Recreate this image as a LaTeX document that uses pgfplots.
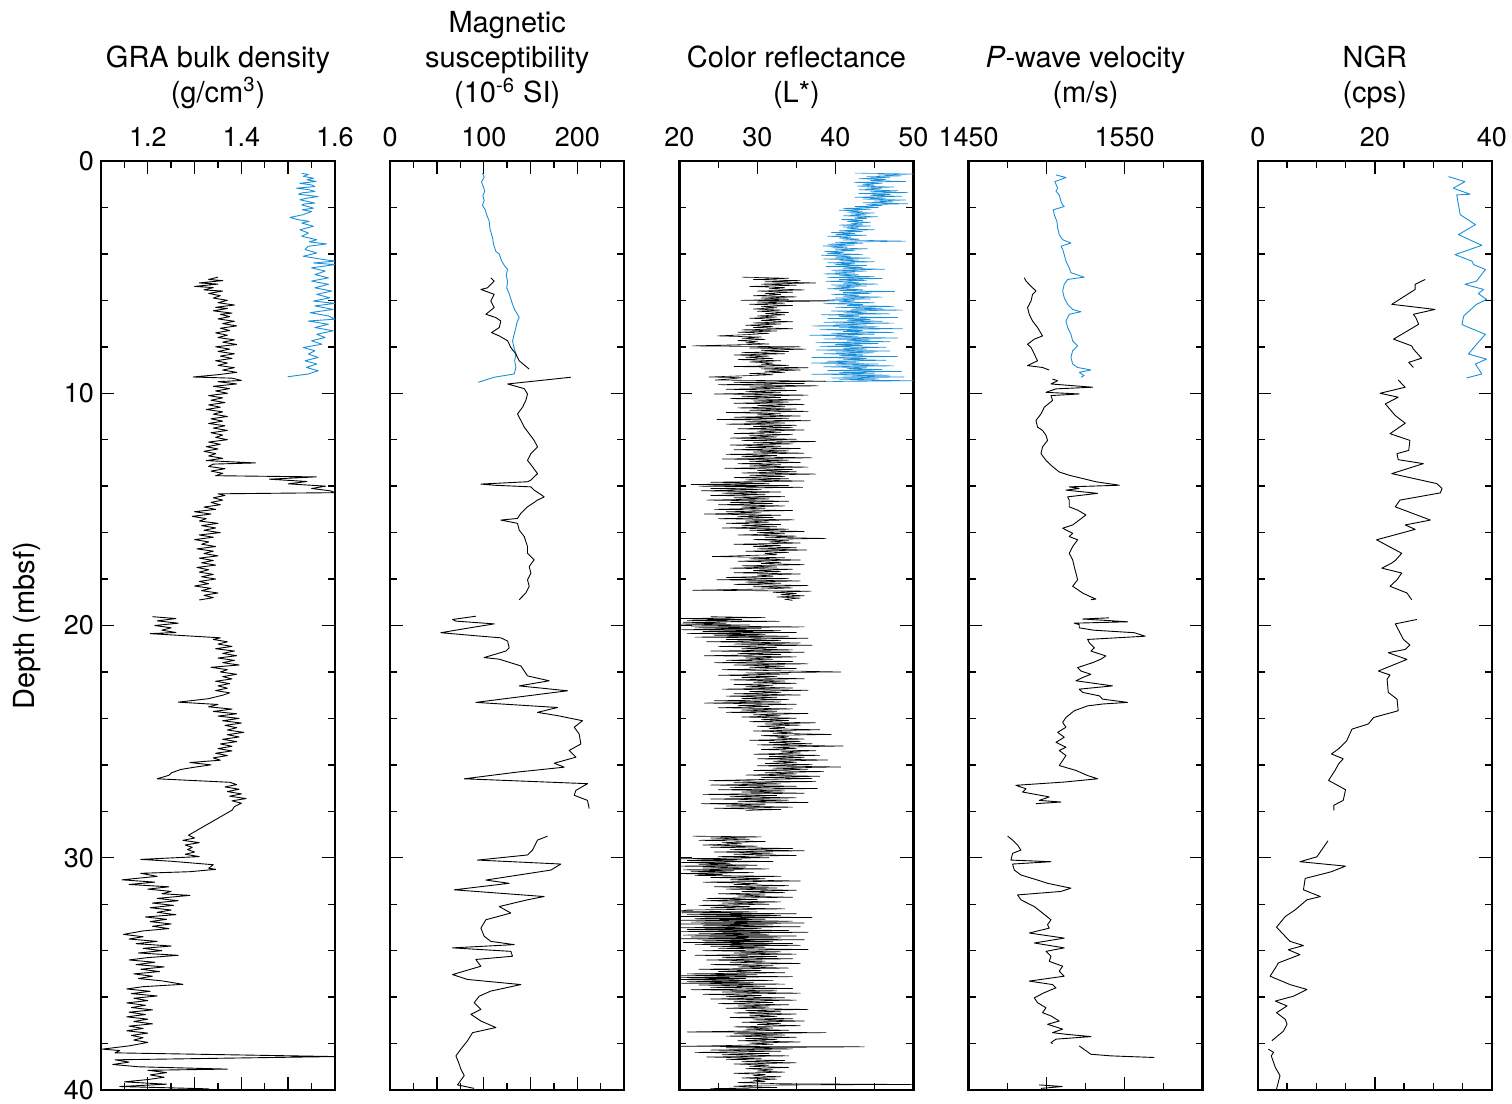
\documentclass[border=0pt]{standalone}
\usepackage{fontspec}
\setmainfont{TeX Gyre Heros}
\usepackage{pgfplots}
\pgfplotsset{compat=1.18}
\definecolor{holeA}{HTML}{1B8FD8}

\pgfplotsset{
  core/.style={
    scale only axis, width=117pt, height=464.5pt,
    anchor=south west,
    y dir=reverse, ymin=0, ymax=40,
    ytick={0,10,20,30,40}, minor y tick num=4, yticklabels={},
    xticklabel pos=upper,
    tick align=inside,
    major tick length=6.5pt, minor tick length=3.5pt,
    every tick/.style={black, line width=0.7pt},
    axis line style={line width=1.2pt},
    tick label style={font=\fontsize{13.5}{16}\selectfont},
    xticklabel style={yshift=3.5pt},
    title style={align=center, font=\fontsize{14.5}{17.5}\selectfont,
      at={(0.5,1)}, anchor=south, inner sep=0pt, yshift=20pt},
  },
  blk/.style={black, line width=0.45pt, line join=round},
  blu/.style={holeA, line width=0.45pt, line join=round},
}

\begin{document}
\begin{tikzpicture}
\path[use as bounding box] (0,0) rectangle (756pt,552pt);

% ---------------- GRA bulk density
\begin{axis}[core, at={(50.5pt,7pt)},
  xmin=1.1, xmax=1.6,
  xtick={1.1,1.2,1.3,1.4,1.5,1.6}, xticklabels={,1.2,,1.4,,1.6}, minor x tick num=1,
  yticklabels={0,10,20,30,40},
  ylabel={Depth (mbsf)},
  ylabel style={at={(axis description cs:-0.316,0.5)}, anchor=center, font=\fontsize{14.5}{17.5}\selectfont},
  title={GRA bulk density\\(g/cm\textsuperscript{3})}]
\addplot[blu] coordinates {(1.529,0.53) (1.543,0.58) (1.532,0.66) (1.554,0.74) (1.540,0.81) (1.560,0.88) (1.525,0.96) (1.550,1.03) (1.557,1.1) (1.518,1.17) (1.545,1.24) (1.557,1.31) (1.530,1.37) (1.522,1.43) (1.564,1.53) (1.540,1.6) (1.525,1.67) (1.557,1.81) (1.535,1.85) (1.529,1.89) (1.554,2.03) (1.530,2.1) (1.550,2.17) (1.532,2.31) (1.504,2.43) (1.522,2.53) (1.545,2.6) (1.529,2.67) (1.554,2.81) (1.525,2.96) (1.543,3.1) (1.529,3.24) (1.561,3.39) (1.545,3.48) (1.582,3.57) (1.543,3.67) (1.536,3.81) (1.561,3.96) (1.532,4.1) (1.575,4.24) (1.600,4.31) (1.554,4.39) (1.600,4.46) (1.550,4.6) (1.579,4.74) (1.557,4.89) (1.586,5.03) (1.550,5.17) (1.586,5.31) (1.557,5.46) (1.593,5.6) (1.561,5.74) (1.589,5.89) (1.554,6.03) (1.600,6.13) (1.557,6.24) (1.596,6.39) (1.547,6.53) (1.586,6.67) (1.600,6.81) (1.543,6.89) (1.586,7.03) (1.557,7.17) (1.596,7.31) (1.561,7.46) (1.579,7.6) (1.550,7.74) (1.572,7.89) (1.532,8.03) (1.557,8.17) (1.543,8.31) (1.564,8.46) (1.536,8.6) (1.561,8.74) (1.539,8.89) (1.564,9.03) (1.543,9.17) (1.499,9.29)};
\addplot[blk] coordinates {(1.35,5.0) (1.33,5.1) (1.36,5.15) (1.31,5.25) (1.35,5.3) (1.30,5.4) (1.34,5.45) (1.32,5.55) (1.36,5.6) (1.33,5.7) (1.355,5.8) (1.34,5.9) (1.37,6.0) (1.35,6.1) (1.385,6.2) (1.345,6.3) (1.37,6.35) (1.34,6.45) (1.38,6.55) (1.355,6.6) (1.375,6.7) (1.35,6.8) (1.385,6.9) (1.36,7.0) (1.39,7.1) (1.355,7.2) (1.375,7.3) (1.345,7.4) (1.37,7.5) (1.35,7.6) (1.385,7.7) (1.36,7.8) (1.39,7.9) (1.345,8.0) (1.375,8.1) (1.35,8.2) (1.385,8.3) (1.355,8.4) (1.38,8.5) (1.345,8.6) (1.37,8.7) (1.35,8.8) (1.385,8.9) (1.36,9.0) (1.39,9.1) (1.35,9.2) (1.297,9.3) (1.38,9.35) (1.40,9.45) (1.35,9.5) (1.39,9.6) (1.34,9.7) (1.375,9.8) (1.345,9.9) (1.37,10.0) (1.33,10.1) (1.36,10.2) (1.335,10.3) (1.365,10.4) (1.33,10.5) (1.355,10.6) (1.325,10.7) (1.36,10.8) (1.34,10.9) (1.37,11.0) (1.335,11.1) (1.36,11.2) (1.33,11.3) (1.365,11.4) (1.34,11.5) (1.37,11.6) (1.335,11.7) (1.36,11.8) (1.345,11.9) (1.37,12.0) (1.33,12.1) (1.355,12.2) (1.325,12.3) (1.35,12.4) (1.32,12.5) (1.345,12.6) (1.33,12.7) (1.36,12.8) (1.325,12.9) (1.43,13.0) (1.34,13.05) (1.33,13.15) (1.365,13.25) (1.335,13.35) (1.36,13.45) (1.345,13.55) (1.56,13.6) (1.46,13.7) (1.54,13.8) (1.50,13.9) (1.58,14.0) (1.55,14.1) (1.59,14.2) (1.6,14.28) (1.35,14.33) (1.365,14.4) (1.34,14.5) (1.36,14.6) (1.335,14.7) (1.355,14.8) (1.32,14.9) (1.345,15.0) (1.30,15.1) (1.335,15.2) (1.295,15.3) (1.325,15.4) (1.31,15.5) (1.35,15.6) (1.315,15.7) (1.345,15.8) (1.32,15.9) (1.355,16.0) (1.31,16.1) (1.34,16.2) (1.30,16.3) (1.33,16.4) (1.315,16.5) (1.345,16.6) (1.305,16.7) (1.34,16.8) (1.32,16.9) (1.35,17.0) (1.31,17.1) (1.34,17.2) (1.315,17.3) (1.345,17.4) (1.305,17.5) (1.33,17.6) (1.31,17.7) (1.34,17.8) (1.315,17.9) (1.345,18.0) (1.31,18.1) (1.33,18.2) (1.30,18.3) (1.335,18.4) (1.315,18.5) (1.35,18.6) (1.32,18.7) (1.34,18.8) (1.31,18.9)};
\addplot[blk] coordinates {(1.21,19.62) (1.26,19.7) (1.22,19.8) (1.265,19.9) (1.215,20.0) (1.25,20.1) (1.23,20.2) (1.26,20.3) (1.205,20.35) (1.355,20.53) (1.34,20.6) (1.37,20.7) (1.35,20.8) (1.38,20.9) (1.345,21.0) (1.385,21.1) (1.36,21.2) (1.39,21.3) (1.35,21.4) (1.385,21.5) (1.36,21.6) (1.395,21.7) (1.335,21.8) (1.37,21.9) (1.355,22.0) (1.39,22.1) (1.36,22.2) (1.38,22.3) (1.345,22.4) (1.375,22.5) (1.35,22.6) (1.37,22.7) (1.345,22.8) (1.375,22.9) (1.36,23.0) (1.33,23.15) (1.265,23.3) (1.35,23.4) (1.33,23.5) (1.38,23.6) (1.34,23.7) (1.39,23.8) (1.35,23.9) (1.395,24.0) (1.36,24.1) (1.40,24.2) (1.365,24.3) (1.39,24.4) (1.37,24.5) (1.405,24.6) (1.37,24.7) (1.395,24.8) (1.36,24.9) (1.39,25.0) (1.355,25.1) (1.38,25.2) (1.35,25.3) (1.38,25.4) (1.345,25.5) (1.37,25.6) (1.34,25.7) (1.355,25.8) (1.29,25.9) (1.335,26.0) (1.30,26.1) (1.27,26.2) (1.25,26.35) (1.245,26.45) (1.22,26.6) (1.375,26.75) (1.39,26.85) (1.365,26.95) (1.395,27.05) (1.37,27.15) (1.40,27.25) (1.375,27.35) (1.41,27.45) (1.38,27.55) (1.40,27.65) (1.385,27.8) (1.38,27.95) (1.287,29.03) (1.30,29.15) (1.275,29.25) (1.31,29.35) (1.28,29.45) (1.295,29.55) (1.285,29.65) (1.30,29.75) (1.28,29.85) (1.31,29.95) (1.185,30.07) (1.25,30.15) (1.34,30.3) (1.33,30.45) (1.345,30.5) (1.29,30.6) (1.185,30.67) (1.22,30.8) (1.145,30.95) (1.215,31.05) (1.16,31.15) (1.245,31.25) (1.20,31.35) (1.25,31.45) (1.23,31.55) (1.29,31.62) (1.22,31.75) (1.265,31.85) (1.21,31.95) (1.255,32.05) (1.205,32.15) (1.25,32.25) (1.22,32.35) (1.26,32.45) (1.195,32.55) (1.24,32.65) (1.205,32.75) (1.25,32.85) (1.21,32.95) (1.245,33.05) (1.19,33.15) (1.148,33.3) (1.19,33.4) (1.16,33.5) (1.22,33.6) (1.175,33.7) (1.25,33.8) (1.19,33.9) (1.23,34.0) (1.18,34.1) (1.265,34.2) (1.20,34.3) (1.16,34.4) (1.215,34.5) (1.175,34.6) (1.235,34.7) (1.185,34.8) (1.225,34.9) (1.17,35.0) (1.21,35.1) (1.18,35.2) (1.23,35.3) (1.275,35.45) (1.19,35.55) (1.155,35.65) (1.205,35.75) (1.165,35.85) (1.22,35.95) (1.17,36.05) (1.20,36.15) (1.155,36.25) (1.195,36.35) (1.165,36.45) (1.21,36.55) (1.16,36.65) (1.195,36.75) (1.155,36.85) (1.20,36.95) (1.17,37.05) (1.21,37.15) (1.16,37.25) (1.19,37.35) (1.155,37.45) (1.20,37.55) (1.165,37.65) (1.19,37.75) (1.17,37.85) (1.20,37.95) (1.16,38.1) (1.103,38.24) (1.14,38.3) (1.13,38.4) (1.6,38.56) (1.13,38.7) (1.16,38.8) (1.125,38.9) (1.18,39.0) (1.37,39.1) (1.2,39.15) (1.24,39.25) (1.205,39.35) (1.235,39.45) (1.2,39.55) (1.15,39.65) (1.24,39.75) (1.14,39.85) (1.33,39.95) (1.25,40)};
\end{axis}

% ---------------- Magnetic susceptibility
\begin{axis}[core, at={(195.1pt,7pt)},
  xmin=0, xmax=250,
  xtick={0,50,100,150,200,250}, xticklabels={0,,100,,200,}, minor x tick num=1,
  title={Magnetic\\susceptibility\\(10\textsuperscript{-6} SI)}]
\addplot[blu] coordinates {(98.6,0.53) (100.4,0.7) (97.5,0.9) (99.5,1.1) (101,1.3) (99,1.5) (100.4,1.7) (98.6,1.9) (101.5,2.1) (103,2.3) (105.8,2.6) (106.5,2.9) (109.3,3.3) (110.5,3.6) (113,3.9) (116.5,4.0) (119,4.3) (122,4.5) (125.4,4.67) (124,4.9) (125.4,5.2) (124.5,5.46) (127,5.7) (129,5.95) (130.7,6.17) (133,6.4) (136,6.6) (137.8,6.74) (135.5,6.95) (134.3,7.17) (132.5,7.45) (130.7,7.74) (132,8.0) (134.3,8.31) (133,8.6) (134.3,8.89) (132.5,9.17) (111.1,9.31) (94,9.53)};
\addplot[blk] coordinates {(107.5,5.03) (111.1,5.17) (104,5.46) (96.9,5.53) (111.1,5.74) (107.5,6.03) (111.1,6.31) (102.2,6.6) (112.9,6.74) (118.2,6.89) (116.5,7.17) (108.3,7.39) (116.5,7.53) (125.4,7.74) (128.9,8.03) (134.3,8.31) (137.8,8.6) (148.5,8.96)};
\addplot[blk] coordinates {(193,9.31) (125.4,9.6) (143.2,9.8) (146.7,10.03) (144.9,10.31) (141.4,10.6) (136,10.89) (139.6,11.17) (143.2,11.46) (148.5,11.74) (153.8,12.03) (157.4,12.31) (150.3,12.6) (146.7,12.89) (152.1,13.17) (157.4,13.46) (150.3,13.74) (146.7,13.81) (96.9,13.91) (111.1,13.96) (150.3,14.03) (153.8,14.17) (159.2,14.31) (164.5,14.46) (157.4,14.6) (146.7,14.89) (139.6,15.17) (136,15.39) (118.2,15.46) (136,15.6) (137.8,15.89) (143.2,16.17) (146.7,16.6) (146.7,16.89) (153.8,17.17) (148.5,17.46) (150.3,17.74) (146.7,18.03) (148.5,18.31) (144.9,18.6) (137.8,18.89)};
\addplot[blk] coordinates {(91.5,19.6) (66.6,19.74) (70,19.81) (111.1,19.93) (85,20.1) (54.1,20.31) (96.9,20.46) (118.2,20.53) (125.4,20.67) (127.1,20.96) (123.6,21.1) (100.4,21.38) (116.5,21.45) (139.6,21.74) (146.7,22.17) (169.9,22.38) (137.8,22.6) (189.5,22.81) (91.5,23.31) (178.8,23.53) (157.4,23.74) (178.8,23.88) (205.5,24.1) (196.6,24.38) (201.9,24.67) (203.7,25.1) (191.2,25.38) (198.4,25.67) (175.2,25.93) (185.9,26.1) (136,26.31) (79.1,26.6) (210.8,26.81) (198.4,27.1) (196.6,27.31) (210.8,27.53) (212.6,27.88)};
\addplot[blk] coordinates {(168.1,29.07) (157.4,29.24) (152.1,29.67) (146.7,29.88) (93.3,30.1) (182.3,30.27) (171.7,30.53) (102.2,30.96) (127.1,31.1) (68.4,31.38) (164.5,31.67) (146.7,31.81) (116.5,32.1) (128.9,32.38) (102.2,32.67) (96.9,33.03) (100.4,33.38) (107.5,33.6) (132.5,33.74) (66.6,33.88) (128.9,34.03) (130.7,34.24) (91.5,34.38) (96.9,34.67) (66.6,35.03) (82.6,35.24) (139.6,35.46) (107.5,35.74) (95.1,35.96) (89.7,36.24) (96.9,36.53) (86.2,36.74) (96.9,37.03) (112.9,37.31) (88,37.53) (82.6,37.88) (75.5,38.24) (70.2,38.53) (73.7,38.88) (75.5,39.1) (79.1,39.38) (71.9,39.78) (89.7,39.93)};
\end{axis}

% ---------------- Color reflectance
\begin{axis}[core, at={(339.7pt,7pt)},
  xmin=20, xmax=50,
  xtick={20,30,40,50}, xticklabels={20,30,40,50}, minor x tick num=1,
  title={Color reflectance\\(L*)}]
\addplot[blu, line width=0.3pt] coordinates {(42.5,0.52) (50,0.56) (45.5,0.6) (48.5,0.64) (44,0.68) (47,0.72) (43,0.76) (46.5,0.8) (44.5,0.84) (49,0.88) (42.4,0.92) (46,0.96) (43.5,1.0) (45,1.04) (42.8,1.08) (47.5,1.12) (44,1.16) (46,1.2) (43,1.24) (48,1.28) (44.5,1.32) (49.3,1.36) (43,1.4) (47,1.44) (44.5,1.48) (48.5,1.52) (42.5,1.56) (46.5,1.6) (43.5,1.64) (49,1.68) (45,1.72) (47.5,1.76) (43.5,1.8) (49.3,1.84) (44,1.88) (46,1.92) (42.5,1.96) (45.5,2.0) (41,2.04) (44.5,2.08) (40.5,2.12) (43.5,2.16) (41.5,2.2) (45,2.24) (42,2.28) (44,2.32) (41,2.36) (45.4,2.4) (42.5,2.44) (44,2.48) (40.8,2.52) (43.5,2.56) (41.5,2.6) (44.5,2.64) (42,2.68) (43.5,2.72) (40.5,2.76) (44.5,2.8) (41,2.84) (43,2.88) (41.5,2.92) (45,2.96) (40.5,3.0) (43.5,3.04) (39.5,3.08) (42.5,3.12) (40,3.16) (44,3.2) (39,3.24) (42,3.28) (40.5,3.32) (43,3.36) (41,3.4) (49,3.45) (40,3.5) (43.5,3.54) (39,3.58) (42.5,3.62) (38.4,3.66) (41.5,3.7) (39.5,3.74) (44.1,3.78) (40,3.82) (42.5,3.86) (38.6,3.9) (41,3.94) (39,3.98) (43.5,4.02) (38.2,4.06) (42,4.1) (40,4.14) (44.5,4.18) (38.5,4.22) (43,4.26) (40.5,4.3) (45,4.34) (39,4.38) (42.5,4.42) (40,4.46) (44,4.5) (38.8,4.54) (43.5,4.58) (41,4.62) (46.3,4.66) (39.5,4.7) (44,4.74) (40,4.78) (42.5,4.82) (38.5,4.86) (43,4.9) (40.5,4.94) (45,4.98) (39,5.02) (46,5.06) (40.5,5.1) (44,5.14) (38.8,5.18) (43,5.22) (41,5.26) (45.5,5.3) (39.5,5.34) (44,5.38) (40,5.42) (42.5,5.46) (39,5.5) (43.5,5.54) (40.5,5.58) (47.6,5.62) (41,5.66) (44.5,5.7) (39.5,5.74) (43,5.78) (41,5.82) (46,5.86) (40,5.9) (44.5,5.94) (39,5.98) (42.5,6.02) (40.5,6.06) (45,6.1) (38.5,6.14) (43.5,6.18) (41.5,6.22) (47.5,6.26) (40,6.3) (46,6.34) (42,6.38) (48.6,6.42) (39.5,6.46) (44,6.5) (41,6.54) (47,6.58) (38.2,6.62) (43,6.66) (40.5,6.7) (48,6.74) (39,6.78) (44.5,6.82) (41.5,6.86) (46,6.9) (38.5,6.94) (47.5,6.98) (40,7.02) (44,7.06) (37,7.1) (45.5,7.14) (40.5,7.18) (48.6,7.22) (38,7.26) (43.5,7.3) (41,7.34) (47.5,7.38) (39.5,7.42) (45,7.46) (36.7,7.5) (43,7.54) (40,7.58) (48,7.62) (38.5,7.66) (44.5,7.7) (41.5,7.74) (47,7.78) (37.5,7.82) (45.5,7.86) (40,7.9) (43.5,7.94) (38,7.98) (46.5,8.02) (41,8.06) (44,8.1) (37.5,8.14) (47,8.18) (40,8.22) (45,8.26) (38.5,8.3) (43.5,8.34) (40.5,8.38) (48,8.42) (37,8.46) (44,8.5) (41,8.54) (46.5,8.58) (39,8.62) (43,8.66) (36.9,8.7) (45.5,8.74) (40,8.78) (47.5,8.82) (38.5,8.86) (44,8.9) (41.5,8.94) (46,8.98) (39,9.02) (48.5,9.06) (40.5,9.1) (45,9.14) (37,9.18) (47,9.22) (41,9.26) (48.8,9.3) (39.5,9.34) (45.5,9.38) (40.5,9.42) (50,9.46) (38.5,9.5)};
\addplot[blk, line width=0.3pt] coordinates {(28,5.0) (34,5.05) (29.5,5.1) (35.5,5.15) (31,5.2) (37.5,5.25) (30.5,5.3) (35,5.35) (29,5.4) (33.5,5.45) (31.5,5.5) (36,5.55) (30,5.6) (34.5,5.65) (31,5.7) (33,5.75) (29.5,5.8) (35,5.85) (30.5,5.9) (34,5.95) (27.9,6.0) (39.9,6.02) (30,6.07) (33.5,6.12) (29,6.17) (34.5,6.22) (30.5,6.27) (32.5,6.32) (29.5,6.37) (33,6.42) (30,6.47) (34,6.52) (31,6.57) (33.5,6.62) (30,6.67) (32.5,6.72) (29,6.77) (33,6.82) (30.5,6.87) (34.5,6.92) (29.5,6.97) (33,7.02) (28.5,7.07) (32,7.12) (29.5,7.17) (34.5,7.22) (28,7.27) (32.5,7.32) (27.5,7.37) (31.5,7.42) (29,7.47) (24.9,7.53) (30.5,7.58) (28,7.63) (31,7.68) (27.5,7.73) (30,7.78) (28.5,7.83) (31.5,7.88) (21.7,7.96) (35.5,8.0) (29,8.05) (36.2,8.1) (30.5,8.15) (34,8.2) (28,8.25) (33.5,8.3) (27,8.35) (31.5,8.4) (28.5,8.45) (32,8.5) (27.5,8.55) (33,8.6) (29,8.65) (32,8.7) (30.5,8.75) (34,8.8) (27,8.85) (36.5,8.9) (30.5,8.95) (35.5,9.0) (31,9.05) (33.5,9.1) (29,9.15) (32,9.2) (28,9.25) (23.8,9.3) (28,9.33) (26.5,9.38) (24.6,9.43) (38.8,9.48) (27,9.53) (36,9.58) (25,9.63) (37.8,9.68) (29,9.73) (33.5,9.78) (26,9.83) (35,9.88) (28.5,9.93) (33,9.98) (24.5,10.03) (36.5,10.08) (28,10.13) (33,10.18) (26.5,10.23) (35.5,10.28) (29.5,10.33) (34,10.38) (27,10.43) (36,10.48) (30,10.53) (33.5,10.58) (27.5,10.63) (35,10.68) (29,10.73) (36.5,10.78) (26,10.83) (33,10.88) (30,10.93) (35.5,10.98) (27,11.03) (34,11.08) (24.8,11.13) (36.8,11.18) (28.5,11.23) (33.5,11.28) (26,11.33) (35,11.38) (29.5,11.43) (34.5,11.48) (27.5,11.53) (36,11.58) (30,11.63) (33,11.68) (27,11.73) (34.5,11.78) (29,11.83) (32.5,11.88) (26.5,11.93) (35,11.98) (28,12.03) (37.5,12.08) (29.5,12.13) (34.5,12.18) (26.5,12.23) (33,12.28) (28.5,12.33) (35.5,12.38) (27,12.43) (34,12.48) (29.5,12.53) (36,12.58) (26,12.63) (32.5,12.68) (28,12.73) (37,12.78) (25.5,12.83) (34,12.88) (29,12.93) (35.5,12.98) (27.5,13.03) (33,13.08) (29,13.13) (36.5,13.18) (25.8,13.23) (34.5,13.28) (30,13.33) (35,13.38) (28,13.43) (37.5,13.48) (29,13.53) (33.5,13.58) (27,13.63) (34,13.68) (28.5,13.73) (36,13.78) (24,13.83) (31.5,13.88) (21.5,13.93) (34,13.97) (22.5,14.0) (35.8,14.05) (24,14.1) (30.5,14.15) (22.8,14.2) (33,14.25) (25.5,14.3) (31,14.35) (24,14.4) (33.5,14.45) (27,14.5) (31.5,14.55) (23.5,14.6) (34,14.65) (26.5,14.7) (32,14.75) (25,14.8) (33.5,14.85) (28,14.9) (31,14.95) (24.5,15.0) (34.5,15.05) (26,15.1) (30.5,15.15) (23.2,15.2) (33,15.25) (27.5,15.3) (32,15.35) (25,15.4) (34.7,15.45) (28.5,15.5) (31.5,15.55) (26,15.6) (33,15.65) (28,15.7) (32.5,15.75) (25.5,15.8) (34,15.85) (29,15.9) (36,15.95) (30,16.0) (33.5,16.05) (27.5,16.1) (35,16.15) (31,16.2) (38.8,16.25) (29.5,16.3) (34,16.35) (31.5,16.4) (35.5,16.45) (27,16.5) (33,16.55) (29.5,16.6) (35,16.65) (30,16.7) (36.3,16.75) (28.5,16.8) (34,16.85) (31,16.9) (32.5,16.95) (24.2,17.03) (33.5,17.08) (29,17.13) (35.5,17.18) (27.5,17.23) (33,17.28) (30.5,17.33) (36,17.38) (28,17.43) (32.5,17.48) (26.5,17.53) (34.5,17.58) (29.5,17.63) (33,17.68) (27,17.73) (35.5,17.78) (30,17.83) (32,17.88) (26,17.93) (34,17.98) (24.8,18.03) (35.5,18.08) (28.5,18.13) (33,18.18) (27,18.23) (36.5,18.28) (29.5,18.33) (34.5,18.38) (30.5,18.43) (21.7,18.48) (36.9,18.52) (32,18.57) (35,18.62) (33,18.67) (36,18.72) (32.5,18.77) (35.5,18.82) (33.5,18.87) (34.5,18.92)};
\addplot[blk, line width=0.3pt] coordinates {(24,19.62) (31,19.66) (20,19.7) (28,19.74) (21,19.78) (32.8,19.82) (20.5,19.86) (26,19.9) (20,19.94) (29,19.98) (21.5,20.02) (36,20.06) (22,20.1) (30.5,20.14) (20.3,20.18) (33,20.22) (23,20.26) (35,20.3) (21,20.34) (31,20.38) (24.5,20.42) (34,20.46) (22,20.5) (36.5,20.55) (26,20.6) (33,20.65) (23.5,20.7) (35.5,20.75) (27,20.8) (37,20.85) (25,20.9) (32.5,20.95) (28,21.0) (34.5,21.05) (24,21.1) (36,21.15) (27.5,21.2) (33,21.25) (23.2,21.3) (35,21.35) (28.5,21.4) (32,21.45) (26,21.5) (34.5,21.55) (24.5,21.6) (36.5,21.65) (27,21.7) (33.5,21.75) (29,21.8) (35,21.85) (25.5,21.9) (33,21.95) (40.7,22.0) (28.5,22.04) (34,22.09) (25,22.14) (32.5,22.19) (28,22.24) (36,22.29) (26.5,22.34) (33.5,22.39) (29.5,22.44) (35,22.49) (27,22.54) (32,22.59) (28.5,22.64) (34.5,22.69) (25.5,22.74) (36.5,22.79) (29,22.84) (33,22.89) (27,22.94) (35.5,22.99) (26,23.04) (32.5,23.09) (28,23.14) (34,23.19) (24.5,23.24) (33,23.29) (23.2,23.34) (35,23.39) (27.5,23.44) (31.5,23.49) (25,23.54) (34.5,23.59) (28,23.64) (32.5,23.69) (26,23.74) (36.5,23.79) (29.5,23.84) (33,23.89) (28,23.94) (35,23.99) (30.5,24.04) (34,24.09) (29,24.14) (37.5,24.19) (31,24.24) (35.5,24.29) (30,24.34) (33.5,24.39) (31.5,24.44) (38,24.49) (29.5,24.54) (34.5,24.59) (32,24.64) (39.5,24.69) (30.5,24.74) (34,24.79) (32.5,24.84) (36,24.89) (29,24.94) (35.5,24.99) (31.5,25.04) (37,25.09) (30,25.14) (41,25.19) (32,25.24) (35,25.29) (30.5,25.34) (37.5,25.39) (33,25.44) (35.5,25.49) (29.5,25.54) (38,25.59) (31.5,25.64) (36,25.69) (30,25.74) (39,25.79) (32,25.84) (35,25.89) (31,25.94) (37,25.99) (30,26.04) (40.7,26.09) (32,26.14) (36.5,26.19) (29.5,26.24) (38.5,26.29) (31,26.34) (35,26.39) (28.5,26.44) (38,26.49) (30.5,26.54) (37,26.59) (29,26.64) (23.8,26.68) (37.5,26.72) (27,26.77) (33,26.82) (24,26.87) (35,26.92) (26.5,26.97) (37.7,27.02) (25,27.07) (33.5,27.12) (28,27.17) (36,27.22) (23,27.27) (32.5,27.32) (26.5,27.37) (35,27.42) (24,27.47) (34,27.52) (27.5,27.57) (36.5,27.62) (22.8,27.67) (31,27.72) (26,27.77) (34.5,27.82) (24.5,27.87) (33,27.92) (28.5,27.96)};
\addplot[blk, line width=0.3pt] coordinates {(21.7,29.07) (30.5,29.1) (24,29.15) (29,29.2) (22.5,29.25) (31,29.3) (25.5,29.35) (28,29.4) (23,29.45) (30,29.5) (24,29.55) (34.5,29.6) (26.5,29.65) (36,29.7) (24.5,29.75) (32,29.8) (27,29.85) (35,29.9) (25,29.95) (31.5,30.0) (20,30.04) (28,30.08) (21,30.12) (32,30.16) (20,30.2) (26.5,30.24) (22.5,30.28) (30,30.32) (20,30.36) (28.5,30.4) (23,30.44) (31.5,30.48) (20.5,30.52) (27,30.56) (21.5,30.6) (29.5,30.64) (20,30.68) (25.5,30.72) (22,30.76) (33,30.8) (24,30.85) (31,30.9) (26.5,30.95) (35.5,31.0) (23,31.05) (30,31.1) (27,31.15) (34,31.2) (24.5,31.25) (32.5,31.3) (26,31.35) (35,31.4) (28,31.45) (33.5,31.5) (25,31.55) (31,31.6) (27.5,31.65) (34.5,31.7) (23.5,31.75) (30,31.8) (23,31.85) (33,31.9) (25.5,31.95) (31.5,32.0) (22.5,32.05) (29,32.1) (24,32.15) (33.5,32.2) (21,32.25) (20,32.3) (30,32.33) (20.3,32.37) (35,32.41) (21,32.45) (33,32.49) (20,32.53) (37,32.57) (22,32.61) (31,32.65) (20,32.69) (34.5,32.73) (21.5,32.77) (36,32.81) (20.2,32.85) (32,32.89) (23,32.93) (35.5,32.97) (20,33.01) (30.5,33.05) (21,33.09) (34,33.13) (20,33.17) (36.5,33.21) (22.5,33.25) (31.5,33.29) (20.5,33.33) (35,33.37) (21.5,33.41) (33,33.45) (20,33.49) (36,33.53) (23,33.57) (32,33.61) (20.5,33.65) (34.5,33.69) (22,33.73) (35.5,33.77) (24,33.81) (31,33.85) (25,33.9) (36.5,33.95) (23,34.0) (33,34.05) (27,34.1) (35,34.15) (22,34.2) (32.5,34.25) (25.5,34.3) (34.5,34.35) (23.5,34.4) (31,34.45) (26.5,34.5) (35.5,34.55) (24,34.6) (32,34.65) (27.5,34.7) (34,34.75) (22.5,34.8) (30.5,34.85) (25,34.9) (33.5,34.95) (21,35.0) (30,35.04) (20,35.08) (34.5,35.12) (20.2,35.16) (28.5,35.2) (20,35.24) (32,35.28) (21,35.32) (29.5,35.36) (20,35.4) (33.5,35.44) (22.5,35.48) (31,35.53) (24,35.58) (34.5,35.63) (21.5,35.68) (32.5,35.73) (25.5,35.78) (35.5,35.83) (23,35.88) (30.5,35.93) (26,35.98) (33.5,36.03) (24,36.08) (35,36.13) (27,36.18) (32,36.23) (25,36.28) (34,36.33) (27.5,36.38) (31.5,36.43) (26,36.48) (36.5,36.53) (28.5,36.58) (33,36.63) (27,36.68) (35,36.73) (29,36.78) (32.5,36.83) (26.5,36.88) (34.5,36.93) (29.5,36.98) (36,37.03) (28,37.08) (33,37.13) (30,37.18) (35.5,37.23) (27,37.28) (32,37.33) (28.5,37.38) (34,37.43) (21,37.5) (38.8,37.53) (27,37.58) (33.5,37.63) (26,37.68) (35,37.73) (28.5,37.78) (32.5,37.83) (27.5,37.88) (35.5,37.93) (29,37.98) (32,38.03) (27,38.08) (20,38.12) (43.7,38.14) (26,38.18) (34.5,38.23) (24,38.28) (33,38.33) (22,38.38) (31.5,38.43) (25.5,38.48) (34,38.53) (23.5,38.58) (30.5,38.63) (26,38.68) (33.5,38.73) (28,38.78) (35,38.83) (27,38.88) (31.5,38.93) (29,38.98) (34,39.03) (28.5,39.08) (32,39.13) (30,39.18) (33.5,39.23) (27,39.28) (31,39.33) (29.5,39.38) (33,39.43) (28,39.48) (32.5,39.53) (29.5,39.58) (31,39.63) (27.5,39.68) (33,39.73) (50,39.76) (30,39.79) (27,39.84) (32.5,39.89) (24,39.94) (31,39.98)};
\end{axis}

% ---------------- P-wave velocity
\begin{axis}[core, at={(484.3pt,7pt)},
  xmin=1450, xmax=1600,
  xtick={1450,1500,1550,1600}, xticklabels={1450,,1550,}, minor x tick num=1,
  title={\textit{P}-wave velocity\\(m/s)}]
\addplot[blu] coordinates {(1506,0.6) (1512.4,0.71) (1505.3,0.89) (1507.1,1.17) (1506,1.3) (1508.1,1.46) (1509.2,1.74) (1510.3,1.89) (1511.3,1.96) (1504.3,2.1) (1504.9,2.31) (1506.6,2.6) (1507.1,2.89) (1508.1,3.17) (1510.3,3.39) (1515.6,3.53) (1509.2,3.67) (1510.3,3.81) (1511.3,4.03) (1512.4,4.31) (1514.5,4.6) (1515.6,4.81) (1524.1,5.0) (1513.5,5.1) (1511.3,5.31) (1510.3,5.6) (1511.3,5.89) (1513.5,6.17) (1516.7,6.39) (1522,6.49) (1514.5,6.6) (1512.4,6.89) (1513.5,7.17) (1515.6,7.46) (1516.7,7.74) (1519.9,7.96) (1516.7,8.17) (1515.6,8.46) (1516.7,8.74) (1519.9,8.89) (1528.4,9.0) (1520.9,9.1) (1524.1,9.24) (1522,9.31)};
\addplot[blk] coordinates {(1485.7,5.03) (1486.8,5.17) (1490,5.39) (1493.2,5.6) (1491,5.74) (1490,6.03) (1487.8,6.31) (1488.9,6.6) (1491,6.89) (1494.2,7.17) (1497.4,7.53) (1492.1,7.67) (1487.8,7.89) (1490,8.03) (1492.1,8.31) (1494.2,8.6) (1487.8,8.81) (1497.4,8.89) (1501.7,9.0)};
\addplot[blk] coordinates {(1503.8,9.39) (1507.1,9.46) (1502.8,9.6) (1529.5,9.74) (1506,9.81) (1499.6,9.96) (1520.9,10.03) (1502.8,10.1) (1503.8,10.31) (1498.5,10.6) (1496.4,10.89) (1493.2,11.17) (1494.2,11.46) (1497.4,11.6) (1499.6,11.81) (1500.6,12.03) (1497.4,12.31) (1496.4,12.6) (1499.6,12.89) (1502.8,13.1) (1508.1,13.39) (1514.5,13.53) (1523.1,13.67) (1531.6,13.81) (1546.6,13.96) (1514.5,14.03) (1520.9,14.1) (1512.4,14.17) (1532.7,14.31) (1513.5,14.46) (1514.5,14.6) (1514.5,14.89) (1519.9,15.03) (1525.2,15.24) (1520.9,15.46) (1516.7,15.67) (1510.3,15.81) (1516.7,16.03) (1514.5,16.17) (1519.9,16.31) (1516.7,16.6) (1514.5,16.89) (1516.7,17.17) (1517.7,17.46) (1518.8,17.74) (1519.9,18.03) (1516.7,18.31) (1523.1,18.6) (1527.4,18.74) (1531.6,18.86) (1528.4,18.89)};
\addplot[blk] coordinates {(1540,19.67) (1523,19.72) (1538,19.78) (1552,19.84) (1517.7,19.9) (1520.9,19.96) (1520.9,20.1) (1530,20.2) (1556.2,20.31) (1563.2,20.46) (1526.3,20.6) (1527.4,20.75) (1530.6,20.96) (1528.4,21.1) (1538,21.31) (1534.8,21.45) (1529.5,21.6) (1519.9,21.81) (1522,21.96) (1528.4,22.1) (1523.1,22.24) (1518.8,22.38) (1542.3,22.6) (1520.9,22.74) (1523.1,22.88) (1533.8,23.03) (1535.9,23.17) (1551.9,23.31) (1535.9,23.38) (1526.3,23.46) (1517.7,23.67) (1512.4,23.96) (1510.3,24.17) (1512.4,24.38) (1507.1,24.6) (1511.3,24.81) (1506,25.03) (1512.4,25.24) (1508.1,25.38) (1512.4,25.6) (1510.3,25.81) (1508.1,26.03) (1518.8,26.24) (1526.3,26.46) (1532.7,26.6) (1511.3,26.74) (1480.3,26.88) (1486.8,27.03) (1484.6,27.17) (1501.7,27.38) (1495.3,27.53) (1509.2,27.6) (1493.2,27.67)};
\addplot[blk] coordinates {(1475,29.07) (1478.2,29.24) (1481.4,29.45) (1483.5,29.67) (1478.2,29.81) (1477.1,30.1) (1502.8,30.17) (1478.2,30.27) (1479.3,30.53) (1483.5,30.74) (1494.2,30.96) (1500.6,31.1) (1515.6,31.31) (1509.2,31.45) (1481.4,31.6) (1483.5,31.81) (1492.1,32.1) (1497.4,32.38) (1502.8,32.67) (1500.6,32.88) (1501.7,33.03) (1488.9,33.24) (1511.3,33.46) (1492.1,33.67) (1511.3,33.88) (1499.6,34.03) (1502.8,34.24) (1501.7,34.46) (1510.3,34.67) (1508.1,34.88) (1511.3,35.1) (1488.9,35.31) (1503.8,35.46) (1506,35.6) (1498.5,35.81) (1492.1,36.03) (1494.2,36.24) (1499.6,36.46) (1497.4,36.67) (1502.8,36.81) (1508.1,37.03) (1500.6,37.17) (1510.3,37.38) (1503.8,37.53) (1512.4,37.6) (1528.4,37.7) (1506,37.81) (1502.8,37.96) (1503.8,38.0)};
\addplot[blk] coordinates {(1520.9,38.1) (1528.4,38.46) (1541.2,38.53) (1569,38.6)};
\addplot[blk] coordinates {(1495.3,39.78) (1510,39.85) (1496.4,39.93)};
\end{axis}

% ---------------- NGR
\begin{axis}[core, at={(628.9pt,7pt)},
  xmin=0, xmax=40,
  xtick={0,20,40}, xticklabels={0,20,40}, minor x tick num=3,
  title={NGR\\(cps)}]
\addplot[blu] coordinates {(32.6,0.67) (35.4,0.89) (33.4,1.17) (36.3,1.43) (34,1.46) (34.6,2.31) (37.2,2.74) (34.3,3.17) (38.3,3.63) (33.7,4.03) (36.6,4.31) (36.9,4.46) (38.9,4.67) (37.4,5.17) (35.4,5.31) (38.6,5.53) (37.7,5.71) (39.1,5.96) (37.4,6.17) (35.2,6.67) (34.9,7.03) (35.4,7.1) (38.9,7.46) (37.4,7.89) (36,8.31) (39.1,8.53) (37.2,8.74) (38.3,9.17) (35.7,9.34)};
\addplot[blk] coordinates {(28.6,5.1) (26.9,5.31) (26.9,5.53) (22.9,6.17) (30.3,6.39) (26.6,6.6) (27,6.74) (27.5,7.03) (23.2,7.67) (26.3,7.96) (26.6,8.1) (28,8.49) (25.8,8.67) (26.6,8.89)};
\addplot[blk] coordinates {(24,9.43) (25.2,9.74) (20.9,10.0) (24,10.17) (21.8,10.46) (23.5,10.96) (25.2,11.29) (22.6,11.74) (26,12.03) (25.8,12.46) (23.8,12.6) (24,12.86) (28.3,13.03) (22.9,13.46) (30.6,13.89) (31.5,14.1) (31.2,14.29) (24.3,14.6) (23.5,14.89) (29.5,15.46) (25.2,15.67) (26.9,15.86) (20.3,16.31) (24.6,16.89) (23.5,17.2) (22.9,17.31) (21.2,17.53) (24.6,17.74) (23.8,18.03) (22.6,18.31) (25.5,18.6) (26.3,18.89)};
\addplot[blk] coordinates {(27.2,19.74) (23.5,19.93) (24.9,20.6) (26,20.84) (25.2,21.03) (22.3,21.17) (25.5,21.46) (20.6,21.96) (22.6,22.13) (22.1,22.31) (22.3,22.88) (23.8,23.17) (24,23.67) (19.8,23.96) (18.9,24.24) (16.1,24.46) (15.2,24.96) (13.8,25.31) (12.6,25.53) (14.6,25.74) (13.8,25.96) (13.2,26.24) (12.1,26.67) (15,27.07) (14.6,27.53) (13,27.74) (13,27.96)};
\addplot[blk] coordinates {(12,29.27) (10.1,29.96) (7.2,30.17) (15,30.36) (12.6,30.6) (8.1,30.89) (7.8,31.38) (10.7,31.67) (8.4,31.81) (6.4,32.24) (4.7,32.53) (3.2,32.99) (5.5,33.6) (7.8,33.78) (5.2,33.96) (7.2,34.17) (3.5,34.53) (3.2,34.67) (2.1,35.1) (5.5,35.46) (8.4,35.67) (6.1,35.96) (3,36.17) (5,36.38) (3.2,36.67) (4.7,36.96) (5,37.17) (4.4,37.46) (2.4,37.88)};
\addplot[blk] coordinates {(1.8,38.24) (2.7,38.38) (2.3,38.53) (3,39.03) (3.8,39.38) (3.2,39.96)};
\end{axis}
\end{tikzpicture}
\end{document}
